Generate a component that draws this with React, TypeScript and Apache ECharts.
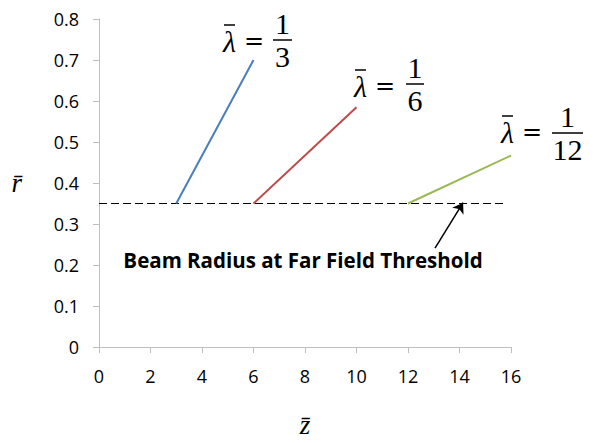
import React, { useEffect, useRef } from "react";
import * as echarts from "echarts";

// ---- data ----
const xMin = 0;
const xMax = 16;
const xInterval = 2;
const yMin = 0;
const yMax = 0.8;
const yInterval = 0.1;

const blueZ = [3, 6];
const blueR = [0.35, 0.7];
const redZ = [6, 10];
const redR = [0.35, 0.585];
const greenZ = [12, 16];
const greenR = [0.35, 0.467];
const thresholdZ = [0, 15.7];
const thresholdR = [0.35, 0.35];
const arrowZ = [13.05, 14.14];
const arrowR = [0.241, 0.352];

const lambdaDenominators = ["3", "6", "12"];
const annotationText = "Beam Radius at Far Field Threshold";
const xName = "z\u0304";
const yName = "r\u0304";

// ---- layout (pixels) ----
const labelLayout = [
  { eqX: 254, eqY: 41, barL: 273, barR: 292, barY: 40 },
  { eqX: 385, eqY: 86, barL: 406, barR: 424, barY: 84 },
  { eqX: 532, eqY: 132, barL: 552, barR: 583, barY: 133 },
];

const pairs = (xs: number[], ys: number[]) => xs.map((x, i) => [x, ys[i]]);

const mathFont = '"Liberation Serif", "DejaVu Serif", serif';

function lambdaLabel(
  l: { eqX: number; eqY: number; barL: number; barR: number; barY: number },
  den: string
) {
  const lamRight = l.eqX - 18;
  const mid = (l.barL + l.barR) / 2;
  return {
    type: "group",
    children: [
      {
        type: "text",
        style: {
          text: "λ",
          x: lamRight,
          y: l.eqY,
          align: "right",
          verticalAlign: "middle",
          font: `italic 30px ${mathFont}`,
          fill: "#000",
        },
      },
      {
        type: "line",
        shape: { x1: lamRight - 12, y1: l.eqY - 16, x2: lamRight - 1, y2: l.eqY - 16 },
        style: { stroke: "#000", lineWidth: 1.5 },
      },
      {
        type: "text",
        style: {
          text: "=",
          x: l.eqX,
          y: l.eqY,
          align: "center",
          verticalAlign: "middle",
          font: `24px "DejaVu Serif", serif`,
          fill: "#000",
        },
      },
      {
        type: "line",
        shape: { x1: l.barL, y1: l.barY, x2: l.barR, y2: l.barY },
        style: { stroke: "#000", lineWidth: 1.5 },
      },
      {
        type: "text",
        style: {
          text: "1",
          x: mid,
          y: l.barY - 2,
          align: "center",
          verticalAlign: "bottom",
          font: `30px ${mathFont}`,
          fill: "#000",
        },
      },
      {
        type: "text",
        style: {
          text: den,
          x: mid,
          y: l.barY + 1,
          align: "center",
          verticalAlign: "top",
          font: `30px ${mathFont}`,
          fill: "#000",
        },
      },
    ],
  };
}

export default function App() {
  const ref = useRef<HTMLDivElement>(null);

  useEffect(() => {
    if (!ref.current) return;
    const chart = echarts.init(ref.current, undefined, { renderer: "svg" });
    const axisColor = "#bfbfbf";
    const tickFont = { fontFamily: '"Open Sans", sans-serif', fontSize: 18, color: "#000" };

    chart.setOption({
      animation: false,
      backgroundColor: "#ffffff",
      grid: { left: 99, right: 85, top: 19, bottom: 94 },
      xAxis: {
        type: "value",
        min: xMin,
        max: xMax,
        interval: xInterval,
        name: xName,
        nameLocation: "middle",
        nameGap: 64,
        nameTextStyle: { fontFamily: mathFont, fontStyle: "italic", fontSize: 27, color: "#000" },
        axisLine: { show: true, lineStyle: { color: axisColor, width: 1 } },
        axisTick: { show: true, length: 6, lineStyle: { color: axisColor } },
        axisLabel: { ...tickFont, margin: 20 },
        splitLine: { show: false },
      },
      yAxis: {
        type: "value",
        min: yMin,
        max: yMax,
        interval: yInterval,
        name: yName,
        nameLocation: "middle",
        nameRotate: 0,
        nameGap: 77,
        nameTextStyle: { fontFamily: mathFont, fontStyle: "italic", fontSize: 27, color: "#000" },
        axisLine: { show: true, lineStyle: { color: axisColor, width: 1 } },
        axisTick: { show: true, length: 6, lineStyle: { color: axisColor } },
        axisLabel: { ...tickFont, margin: 20 },
        splitLine: { show: false },
      },
      series: [
        {
          type: "line",
          data: pairs(thresholdZ, thresholdR),
          showSymbol: false,
          lineStyle: { color: "#000", width: 1.2, type: [8, 4] },
          z: 1,
          markLine: {
            silent: true,
            symbol: ["none", "arrow"],
            symbolSize: 10,
            label: { show: false },
            lineStyle: { color: "#000", width: 1.5, type: "solid" },
            data: [[{ coord: [arrowZ[0], arrowR[0]] }, { coord: [arrowZ[1], arrowR[1]] }]],
          },
        },
        {
          type: "line",
          data: pairs(blueZ, blueR),
          showSymbol: false,
          lineStyle: { color: "#4a7ebb", width: 2 },
          z: 3,
        },
        {
          type: "line",
          data: pairs(redZ, redR),
          showSymbol: false,
          lineStyle: { color: "#be4b48", width: 2 },
          z: 3,
        },
        {
          type: "line",
          data: pairs(greenZ, greenR),
          showSymbol: false,
          lineStyle: { color: "#98b954", width: 2 },
          z: 3,
        },
      ],
      graphic: [
        ...labelLayout.map((l, i) => lambdaLabel(l, lambdaDenominators[i])),
        {
          type: "text",
          style: {
            text: annotationText,
            x: 303,
            y: 260,
            align: "center",
            verticalAlign: "middle",
            font: 'bold 20.5px "Open Sans", sans-serif',
            fill: "#000",
          },
        },
      ],
    });

    return () => chart.dispose();
  }, []);

  return (
    <div
      ref={ref}
      style={{ position: "absolute", left: 0, top: 0, width: 596, height: 443, background: "#fff" }}
    />
  );
}
